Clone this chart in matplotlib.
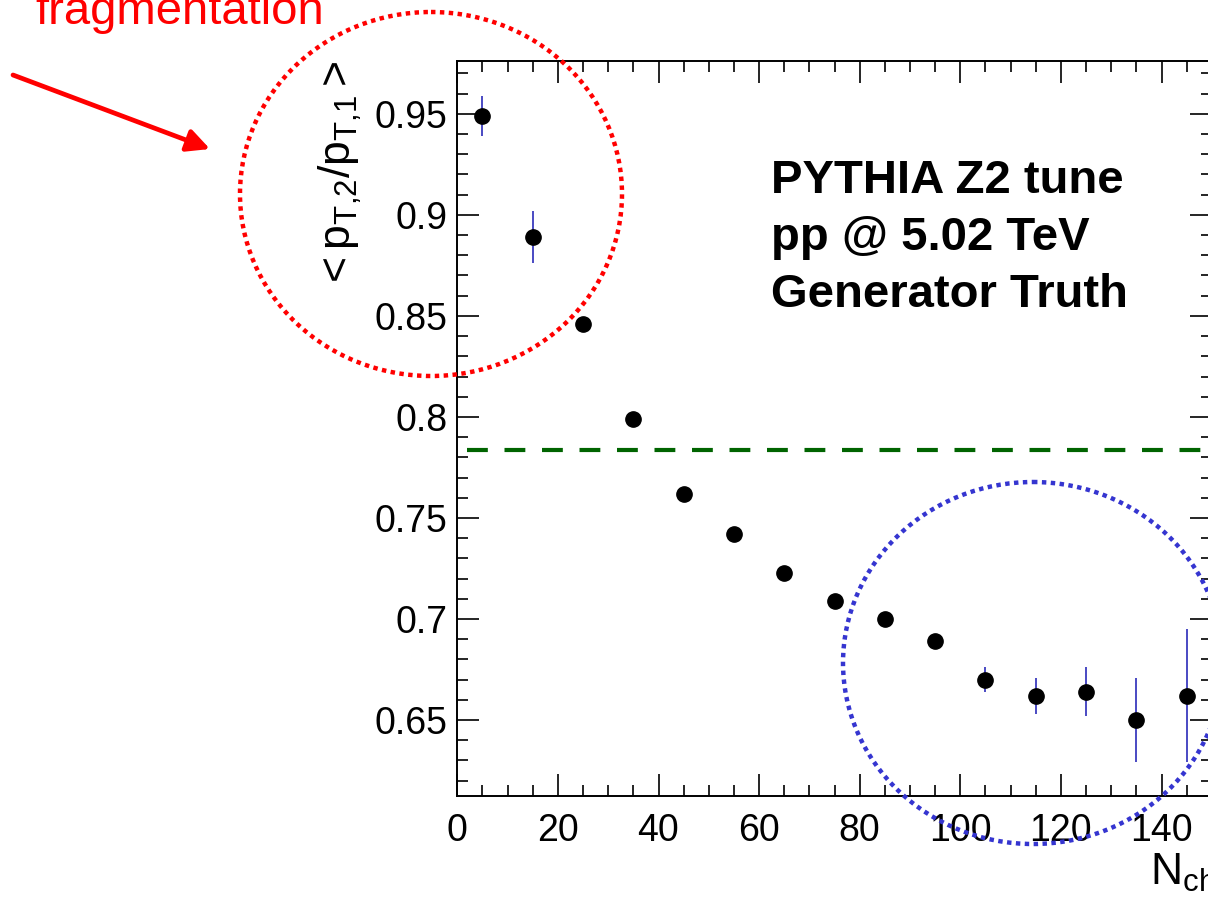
import matplotlib
matplotlib.use("Agg")
import matplotlib.pyplot as plt
from matplotlib.ticker import MultipleLocator, FixedLocator
from matplotlib.patches import Ellipse

plt.rcParams['font.family'] = ['Liberation Sans', 'DejaVu Sans']
plt.rcParams['mathtext.fontset'] = 'custom'
plt.rcParams['mathtext.rm'] = 'Liberation Sans'
plt.rcParams['mathtext.it'] = 'Liberation Sans'
plt.rcParams['mathtext.bf'] = 'Liberation Sans:bold'
plt.rcParams['mathtext.default'] = 'regular'

# ---- data ----
nch_centers = [5, 15, 25, 35, 45, 55, 65, 75, 85, 95, 105, 115, 125, 135, 145]
ratio_mean = [0.949, 0.889, 0.846, 0.799, 0.762, 0.742, 0.723, 0.709, 0.700,
              0.689, 0.670, 0.662, 0.664, 0.650, 0.662]
ratio_err = [0.010, 0.013, 0.003, 0.002, 0.002, 0.002, 0.002, 0.002, 0.002,
             0.002, 0.006, 0.009, 0.012, 0.021, 0.033]
reference_level = 0.7834
reference_xrange = [2, 150]
x_tick_values = [0, 20, 40, 60, 80, 100, 120, 140]
text_lines = ["PYTHIA Z2 tune", "pp @ 5.02 TeV", "Generator Truth"]

W, H = 1208, 900
fig = plt.figure(figsize=(W / 100, H / 100), dpi=100)

# main axes in pixel geometry
L, R, T, B = 457.3, 1211.8, 60.7, 796.0
ax = fig.add_axes([L / W, 1 - B / H, (R - L) / W, (B - T) / H])
ax.set_xlim(0, 150)
ax.set_ylim(0.6124, 0.9763)

ax.xaxis.set_major_locator(FixedLocator(x_tick_values))
ax.xaxis.set_minor_locator(MultipleLocator(5))
ax.yaxis.set_major_locator(MultipleLocator(0.05))
ax.yaxis.set_minor_locator(MultipleLocator(0.01))
ax.yaxis.set_major_formatter(matplotlib.ticker.FuncFormatter(
    lambda v, p: f"{v:.2f}".rstrip('0').rstrip('.') if v else "0"))

ax.tick_params(which='both', direction='in', top=True, right=True, width=1.2, colors='black')
ax.tick_params(which='major', length=16, labelsize=27)
ax.tick_params(which='minor', length=8)
ax.tick_params(axis='x', which='major', pad=12)
ax.tick_params(axis='y', which='major', pad=7)
for s in ax.spines.values():
    s.set_linewidth(1.4)

ax.errorbar(nch_centers, ratio_mean, yerr=ratio_err, fmt='o', color='black',
            ecolor='#3c3cbe', elinewidth=1.3, capsize=0, markersize=11, zorder=3)
ax.plot(reference_xrange, [reference_level] * 2, color='#006400', lw=3,
        linestyle=(0, (5, 4)), zorder=2)

ax.text((L - 107 - L) / (R - L), 1.0, r'$<p_{T{,}2}/p_{T{,}1}>$', transform=ax.transAxes,
        rotation=90, rotation_mode='anchor', ha='right', va='baseline', fontsize=32)
ax.text((1150 - L) / (R - L), (B - 885) / (B - T), r'$N_{ch}$', transform=ax.transAxes,
        ha='left', va='baseline', fontsize=32)

for i, line in enumerate(text_lines):
    fig.text(771 / W, 1 - (193 + 57 * i) / H, line, fontsize=34, fontweight='bold',
             ha='left', va='baseline')

# overlay annotations in pixel coordinates
ov = fig.add_axes([0, 0, 1, 1], facecolor='none')
ov.set_xlim(0, W)
ov.set_ylim(H, 0)
ov.axis('off')
ov.add_patch(Ellipse((431, 194), 382, 364, fill=False, edgecolor='#ff0000', lw=3.2,
                     linestyle=(0, (1, 1))))
ov.add_patch(Ellipse((1033, 663), 380, 362, fill=False, edgecolor='#3535d0', lw=3.2,
                     linestyle=(0, (1, 1))))
ov.annotate('', xy=(210, 149), xytext=(13, 75),
            arrowprops=dict(arrowstyle='-|>', color='#ff0000', lw=3.4, mutation_scale=34,
                            shrinkA=0, shrinkB=0))
ov.text(35, 24, 'fragmentation', color='#ff0000', fontsize=34, ha='left', va='baseline')
ov.text(-9, 24, 'l', color='#ff0000', fontsize=34, ha='left', va='baseline')

fig.savefig('out.png', dpi=100)
